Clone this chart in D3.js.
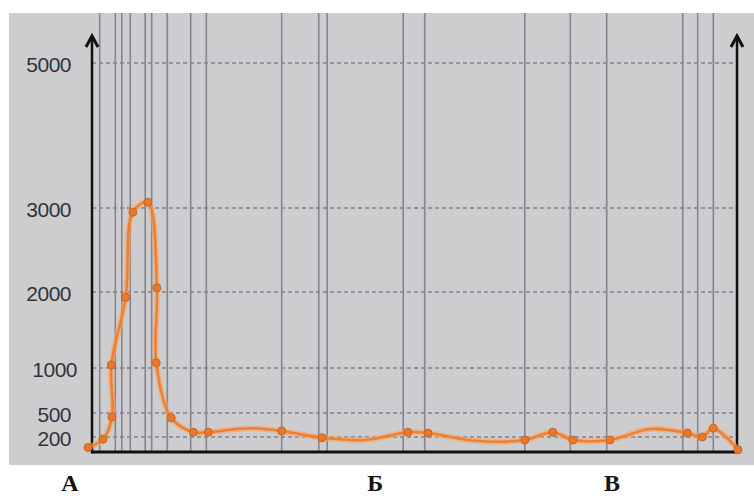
<!DOCTYPE html>
<html><head><meta charset="utf-8">
<script src="https://cdn.jsdelivr.net/npm/d3@7"></script>
<style>body{margin:0;background:#fff}svg{display:block}</style>
</head><body><svg id="c" width="754" height="498"></svg>
<script>
// ---- data ----
const yTickValues = [200, 500, 1000, 2000, 3000, 5000];
const yTickLabels = ["200", "500", "1000", "2000", "3000", "5000"];
const gridX = [1.8, 4.2, 5.2, 6.5, 8.8, 9.8, 12.2, 15.8, 18.2, 29.8, 35.5, 36.8, 48.5, 51.8, 67.2, 74.2, 79.8, 91.5, 93.8, 96.2];
const seriesX = [0, 2.3, 3.7, 3.6, 5.8, 6.9, 9.2, 10.6, 10.5, 12.8, 16.2, 18.5, 24.9, 29.8, 36.0, 42.6, 49.2, 52.3, 59.5, 67.2, 71.5, 74.6, 80.3, 86.5, 92.2, 94.5, 96.2, 100];
const seriesY = [60, 170, 450, 1040, 1930, 2950, 3080, 2050, 1070, 440, 260, 260, 310, 275, 190, 160, 260, 250, 150, 160, 260, 160, 160, 300, 250, 200, 310, 30];
const markerFlags = [1, 1, 1, 1, 1, 1, 1, 1, 1, 1, 1, 1, 0, 1, 1, 0, 1, 1, 0, 1, 1, 1, 1, 0, 1, 1, 1, 1];
const stationLabels = ["А", "Б", "В"];
const stationX = [-2.8, 44.2, 80.6];

// ---- layout ----
const svg = d3.select("#c");
const axisLeft = 92, axisRight = 737, axisBottom = 452, gridTop = 13;
const x = d3.scaleLinear().domain([0, 100]).range([88, 738]);
const y = d3.scaleLinear().domain([0, 200, 500, 1000, 2000, 3000, 5000])
  .range([452, 437, 413, 368, 292, 208, 63]);

svg.append("rect").attr("x", 9).attr("y", 13).attr("width", 745).attr("height", 452).attr("fill", "#cdcdd0");

// horizontal dashed grid
svg.append("g").selectAll("line").data(yTickValues).join("line")
  .attr("x1", axisLeft).attr("x2", axisRight)
  .attr("y1", d => y(d)).attr("y2", d => y(d))
  .attr("stroke", "#5e5e62").attr("stroke-width", 1.2).attr("stroke-dasharray", "4,3");

// vertical grid
svg.append("g").selectAll("line").data(gridX).join("line")
  .attr("x1", d => x(d)).attr("x2", d => x(d))
  .attr("y1", gridTop).attr("y2", axisBottom)
  .attr("stroke", "#86868a").attr("stroke-width", 1.6);

// y labels
const labelShift = {"1000": 6};
svg.append("g").selectAll("text").data(yTickValues).join("text")
  .attr("x", (d, i) => 71 + (labelShift[yTickLabels[i]] || 0))
  .attr("y", d => y(d) + 2)
  .attr("dy", "0.35em")
  .attr("text-anchor", "end")
  .attr("font-family", "Liberation Sans, Arial, sans-serif")
  .attr("font-size", 21).attr("letter-spacing", "-0.5")
  .attr("fill", "#333336")
  .text((d, i) => yTickLabels[i]);

// axes
const ax = svg.append("g").attr("stroke", "#111").attr("fill", "none");
ax.append("line").attr("x1", axisLeft).attr("x2", axisRight).attr("y1", axisBottom).attr("y2", axisBottom).attr("stroke-width", 3);
[axisLeft, axisRight].forEach(px => {
  ax.append("line").attr("x1", px).attr("x2", px).attr("y1", axisBottom + 1.5).attr("y2", 37).attr("stroke-width", 2.5);
  ax.append("path").attr("d", `M${px - 6},${47} L${px},${36} L${px + 6},${47}`).attr("stroke-width", 3).attr("stroke-linejoin", "miter");
});

// series
const pts = seriesX.map((v, i) => ({x: v, y: seriesY[i], m: markerFlags[i]}));
const line = d3.line().x(d => x(d.x)).y(d => y(d.y)).curve(d3.curveCatmullRom.alpha(0.5));
svg.append("path").datum(pts).attr("d", line).attr("fill", "none")
  .attr("stroke", "#f6a565").attr("stroke-opacity", 0.55).attr("stroke-width", 6);
svg.append("path").datum(pts).attr("d", line).attr("fill", "none")
  .attr("stroke", "#f07f2e").attr("stroke-width", 2.6);
svg.append("g").selectAll("circle").data(pts.filter(d => d.m)).join("circle")
  .attr("cx", d => x(d.x)).attr("cy", d => y(d.y)).attr("r", 4)
  .attr("fill", "#e9782c").attr("stroke", "#c9651f").attr("stroke-width", 1);

// station labels
svg.append("g").selectAll("text").data(stationLabels).join("text")
  .attr("x", (d, i) => x(stationX[i])).attr("y", 491)
  .attr("text-anchor", "middle")
  .attr("font-family", "Liberation Serif, Times New Roman, serif")
  .attr("font-weight", "bold").attr("font-size", 24).attr("fill", "#151515")
  .text(d => d);
</script></body></html>
